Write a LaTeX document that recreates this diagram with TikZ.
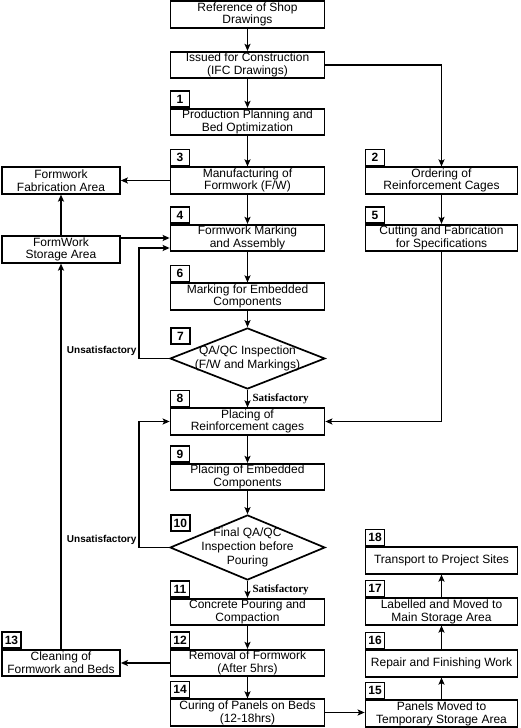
\documentclass[tikz,border=0pt]{standalone}
\usepackage{fontspec}
\setmainfont{Liberation Sans}
\newfontfamily\serifbold{Liberation Serif}
\usetikzlibrary{arrows.meta,shapes.geometric,positioning}

\begin{document}
\begin{tikzpicture}[x=1pt,y=1pt,
  box/.style={draw,line width=1.7pt,minimum height=26.5pt,inner xsep=1pt,inner ysep=0.5pt,align=center,font=\fontsize{12}{12.8}\selectfont},
  mainbox/.style={box,minimum width=154pt},
  sidebox/.style={box,minimum width=118pt},
  rightbox/.style={box,minimum width=152pt},
  numbox/.style={draw,line width=1.7pt,minimum width=19pt,minimum height=16pt,inner sep=1pt,anchor=south west,font=\bfseries\fontsize{12}{12}\selectfont},
  decision/.style={diamond,draw,line width=1.7pt,minimum width=155pt,inner sep=0pt},
  arr/.style={-{Stealth[length=7pt,width=6pt,inset=1.5pt]},line width=1.4pt},
  yes/.style={font=\serifbold\bfseries\fontsize{11}{11}\selectfont},
  no/.style={font=\bfseries\fontsize{10}{10}\selectfont}]
\useasboundingbox (0,0) rectangle (520,728);

\node[mainbox] (ref) at (247.5,713.5) {Reference of Shop\\Drawings};
\node[mainbox] (ifc) at (247.5,663) {Issued for Construction\\(IFC Drawings)};
\node[mainbox] (b1) at (247.5,606) {Production Planning and\\Bed Optimization};
\node[mainbox] (b3) at (247.5,547.5) {Manufacturing of\\Formwork (F/W)};
\node[mainbox] (b4) at (247.5,490) {Formwork Marking\\and Assembly};
\node[mainbox] (b6) at (247.5,431.5) {Marking for Embedded\\Components};
\node[decision,minimum height=61pt,label={[align=center,font=\fontsize{12}{14}\selectfont]center:QA/QC Inspection\\(F/W and Markings)}] (d7) at (247.5,369.5) {};
\node[mainbox] (b8) at (247.5,306.5) {Placing of\\Reinforcement cages};
\node[mainbox] (b9) at (247.5,251) {Placing of Embedded\\Components};
\node[decision,minimum height=65pt,label={[align=center,font=\fontsize{12}{14}\selectfont]center:Final QA/QC\\Inspection before\\Pouring}] (d10) at (247.5,180.5) {};
\node[mainbox] (b11) at (247.5,116) {Concrete Pouring and\\Compaction};
\node[mainbox] (b12) at (247.5,65) {Removal of Formwork\\(After 5hrs)};
\node[mainbox] (b14) at (247.5,15.5) {Curing of Panels on Beds\\(12-18hrs)};

\node[sidebox] (fab) at (61,547.5) {Formwork\\Fabrication Area};
\node[sidebox] (stor) at (61,478.5) {FormWork\\Storage Area};
\node[sidebox] (b13) at (61,65) {Cleaning of\\Formwork and Beds};

\node[rightbox] (b2) at (441.5,547.5) {Ordering of\\Reinforcement Cages};
\node[rightbox] (b5) at (441.5,490) {Cutting and Fabrication\\for Specifications};
\node[rightbox] (b18) at (441.5,167.5) {Transport to Project Sites};
\node[rightbox] (b17) at (441.5,116.5) {Labelled and Moved to\\Main Storage Area};
\node[rightbox] (b16) at (441.5,64.5) {Repair and Finishing Work};
\node[rightbox] (b15) at (441.5,14.5) {Panels Moved to\\Temporary Storage Area};

\node[numbox] (n1) at (b1.north west) {1};
\node[numbox] (n2) at (b2.north west) {2};
\node[numbox] (n3) at (b3.north west) {3};
\node[numbox] (n4) at (b4.north west) {4};
\node[numbox] (n5) at (b5.north west) {5};
\node[numbox] (n6) at (b6.north west) {6};
\node[numbox] (n7) at (170,383) {7};
\node[numbox] (n8) at (b8.north west) {8};
\node[numbox] (n9) at (b9.north west) {9};
\node[numbox] (n10) at (170,196) {10};
\node[numbox] (n11) at (b11.north west) {11};
\node[numbox] (n12) at (b12.north west) {12};
\node[numbox] (n13) at (b13.north west) {13};
\node[numbox] (n14) at (b14.north west) {14};
\node[numbox] (n15) at (b15.north west) {15};
\node[numbox] (n16) at (b16.north west) {16};
\node[numbox] (n17) at (b17.north west) {17};
\node[numbox] (n18) at (b18.north west) {18};

\draw[arr] (ref.south) -- (ifc.north);
\draw[arr] (ifc.south) -- (b1.north);
\draw[arr] (ifc.east) -| (b2.north);
\draw[arr] (b1.south) -- (b3.north);
\draw[arr] (b3.west) -- (fab.east);
\draw[arr] (b3.south) -- (b4.north);
\draw[arr] (stor.north) -- (fab.south);
\draw[arr] (b4.west -| stor.east) -- (b4.west);
\draw[arr] (b4.south) -- (b6.north);
\draw[arr] (b6.south) -- (d7.north);
\draw[arr] (d7.west) -- ++(-30,0) node[no,above left,inner sep=2pt]{Unsatisfactory} |- ([yshift=-10pt]b4.west);
\draw[arr] (d7.south) -- node[yes,right,xshift=1pt]{Satisfactory} (b8.north);
\draw[arr] (b2.south) -- (b5.north);
\draw[arr] (b5.south) |- (b8.east);
\draw[arr] (b8.south) -- (b9.north);
\draw[arr] (b9.south) -- (d10.north);
\draw[arr] (d10.west) -- ++(-30,0) node[no,above left,inner sep=2pt]{Unsatisfactory} |- (b8.west);
\draw[arr] (d10.south) -- node[yes,right,xshift=1pt]{Satisfactory} (b11.north);
\draw[arr] (b11.south) -- (b12.north);
\draw[arr] (b12.west) -- (b13.east);
\draw[arr] (b13.north) -- (stor.south);
\draw[arr] (b12.south) -- (b14.north);
\draw[arr] (b14.east) -- (b14.east -| b15.west);
\draw[arr] (b15.north) -- (b16.south);
\draw[arr] (b16.north) -- (b17.south);
\draw[arr] (b17.north) -- (b18.south);
\end{tikzpicture}
\end{document}
